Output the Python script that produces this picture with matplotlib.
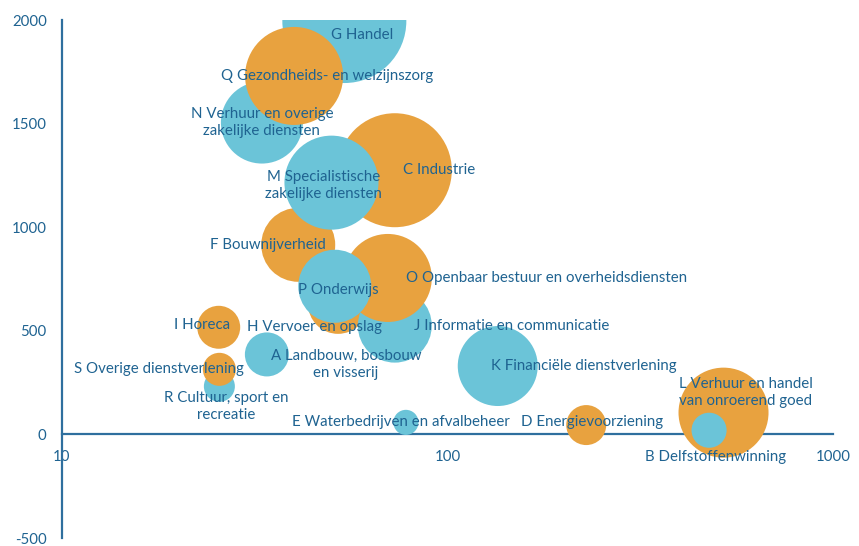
import numpy as np
import matplotlib
matplotlib.use('Agg')
import matplotlib.pyplot as plt

plt.rcParams['font.family'] = ['Lato', 'DejaVu Sans']
plt.rcParams['axes.unicode_minus'] = False

# Sectors in drawing order (later entries sit on top)
sectors = [
    'A Landbouw, bosbouw\nen visserij',
    'C Industrie',
    'D Energievoorziening',
    'E Waterbedrijven en afvalbeheer',
    'F Bouwnijverheid',
    'G Handel',
    'H Vervoer en opslag',
    'I Horeca',
    'J Informatie en communicatie',
    'K Financiële dienstverlening',
    'L Verhuur en handel\nvan onroerend goed',
    'B Delfstoffenwinning',
    'M Specialistische\nzakelijke diensten',
    'N Verhuur en overige\nzakelijke diensten',
    'O Openbaar bestuur en overheidsdiensten',
    'P Onderwijs',
    'Q Gezondheids- en welzijnszorg',
    'R Cultuur, sport en\nrecreatie',
    'S Overige dienstverlening',
]
x_vals = [34, 73, 229, 78, 41, 54, 52, 25.5, 73, 135, 520, 477,
          50, 33, 70, 51, 40, 25.6, 25.6]
y_vals = [386, 1275, 45, 58, 915, 1995, 630, 517, 525, 330, 105, 20,
          1215, 1505, 755, 715, 1730, 232, 314]
bubble_size = [12.6, 84.5, 10.4, 4.1, 35.6, 100, 23.4, 12.0, 35.6, 41.6,
               52.7, 8.0, 57.5, 43.7, 50.4, 34.7, 62.5, 6.25, 7.1]
groep = [1, 0, 0, 1, 0, 1, 0, 0, 1, 1, 0, 1, 1, 1, 0, 1, 0, 1, 0]

# label offsets from bubble centre, in pixels (right, down)
label_offset = [(79, 10), (44, 0), (6, -3), (-5, 0), (-30, 0), (18, 14),
                (-24, 23), (-17, -2), (117, 0), (86, 0), (22, -20), (6, 27),
                (-8, 3), (0, 0), (159, 0), (4, 4), (33, 0), (7, 20), (-60, 0)]

ORANGE = '#E8A23F'
BLUE = '#6BC4D8'
TEXT = '#1F6391'
AXIS = '#2F6F9E'
DPI = 100
R_MAX = 62  # radius of the largest bubble in pixels


def main():
    fig = plt.figure(figsize=(8.59, 5.46), dpi=DPI)
    ax = fig.add_axes([62 / 859, 1 - 538 / 546, (833 - 62) / 859, (538 - 20) / 546])

    sizes = np.array(bubble_size)
    r_pt = R_MAX * np.sqrt(sizes / sizes.max()) * 72 / DPI
    colors = [BLUE if g else ORANGE for g in groep]

    ax.scatter(x_vals, y_vals, s=(2 * r_pt) ** 2, c=colors,
               linewidths=0, zorder=3)

    for name, x, y, (dx, dy) in zip(sectors, x_vals, y_vals, label_offset):
        ax.annotate(name, (x, y), xytext=(dx * 72 / DPI, -dy * 72 / DPI),
                    textcoords='offset points', ha='center', va='center',
                    fontsize=10.8, color=TEXT, linespacing=1.25, zorder=5)

    ax.set_xscale('log')
    ax.set_xlim(10, 1000)
    ax.set_ylim(-500, 2000)
    ax.set_xticks([10, 100, 1000])
    ax.set_xticklabels(['10', '100', '1000'])
    ax.xaxis.set_minor_locator(matplotlib.ticker.NullLocator())
    ax.set_yticks([-500, 0, 500, 1000, 1500, 2000])

    ax.spines['top'].set_visible(False)
    ax.spines['right'].set_visible(False)
    ax.spines['bottom'].set_position(('data', 0))
    for side in ('left', 'bottom'):
        ax.spines[side].set_color(AXIS)
        ax.spines[side].set_linewidth(1.6)
        ax.spines[side].set_zorder(2)

    ax.tick_params(axis='both', length=0, labelsize=10.8, labelcolor=TEXT)
    ax.tick_params(axis='x', pad=11)
    ax.tick_params(axis='y', pad=11)
    ax.patch.set_alpha(0)

    fig.savefig('out.png', dpi=DPI)
    plt.close(fig)


if __name__ == '__main__':
    main()
